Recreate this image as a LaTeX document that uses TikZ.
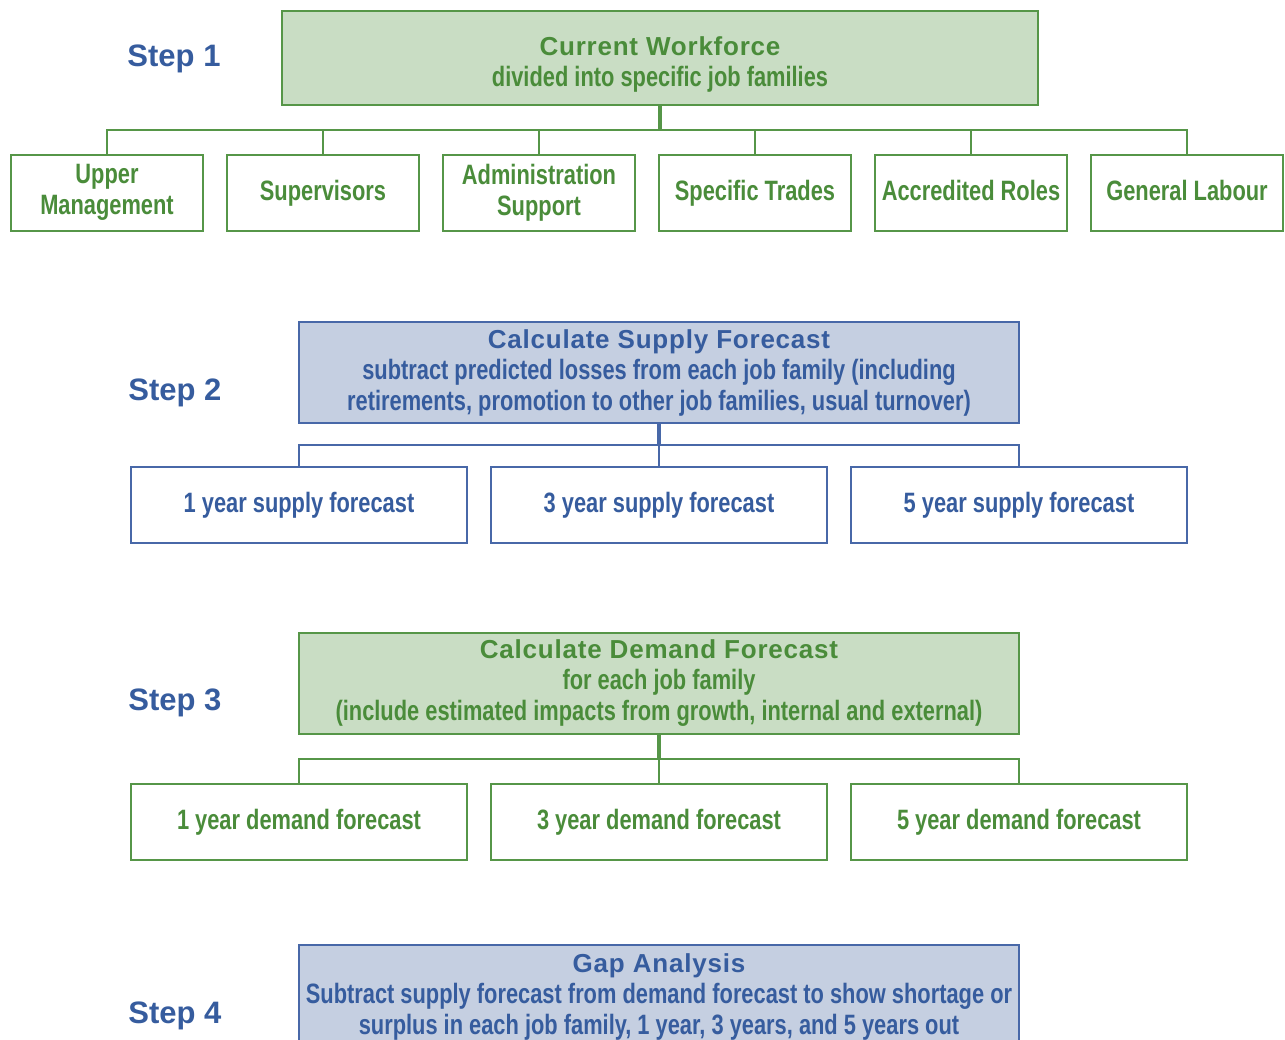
\documentclass[tikz,border=0pt]{standalone}
\usepackage{fontspec}
\setmainfont{Liberation Sans}
\newfontfamily\narrowfont{Liberation Sans}[FakeStretch=0.78]
\newfontfamily\headfont{Liberation Sans}[LetterSpace=3]
\newfontfamily\stepfont{Liberation Sans}

\definecolor{gtext}{RGB}{74,140,58}
\definecolor{gfill}{RGB}{201,221,196}
\definecolor{gline}{RGB}{86,150,72}
\definecolor{btext}{RGB}{54,92,158}
\definecolor{bfill}{RGB}{197,207,225}
\definecolor{bline}{RGB}{72,104,168}

\tikzset{
  steplabel/.style={text=btext, font=\stepfont\bfseries\fontsize{31}{36}\selectfont},
  narrowtxt/.style={font=\narrowfont\bfseries\fontsize{28}{31}\selectfont},
  mainbox/.style={draw, line width=1.8pt, minimum width=720pt, minimum height=101pt,
    align=center, inner sep=0pt, narrowtxt},
  greenmain/.style={mainbox, draw=gline, fill=gfill, text=gtext},
  bluemain/.style={mainbox, draw=bline, fill=bfill, text=btext},
  leaf/.style={draw, line width=1.8pt, fill=white, minimum width=336pt, minimum height=76pt,
    align=center, inner sep=0pt, narrowtxt,
    execute at begin node=\rule{0pt}{22pt},
    execute at end node=\rule[-6.5pt]{0pt}{6.5pt}},
  greenleaf/.style={leaf, draw=gline, text=gtext},
  blueleaf/.style={leaf, draw=bline, text=btext},
  familybox/.style={greenleaf, minimum width=192pt},
  conn/.style={line width=1.8pt},
  stem/.style={line width=3.2pt},
}
\newcommand{\headline}[1]{{\headfont\bfseries\fontsize{26}{31}\selectfont #1}}

\begin{document}
\begin{tikzpicture}[x=1pt, y=-1pt]
\useasboundingbox (0,0) rectangle (1285,1039);
\clip (0,0) rectangle (1285,1039);

% ---- Step 1: workforce and job families
\node[steplabel] (st1) at (174,59) {Step 1};
\node[greenmain, minimum width=756pt, minimum height=94pt] (cw) at (660,58) {};
\node[text=gtext, narrowtxt, align=center, inner sep=0pt] (cwtxt) at (660,64)
  {\headline{Current Workforce}\\divided into specific job families};
\coordinate (bar1) at (660,130);
\node[familybox] (f1) at (107,193) {Upper\\Management};
\node[familybox] (f2) at (323,193) {Supervisors};
\node[familybox] (f3) at (539,193) {Administration\\Support};
\node[familybox] (f4) at (755,193) {Specific Trades};
\node[familybox] (f5) at (971,193) {Accredited Roles};
\node[familybox] (f6) at (1187,193) {General Labour};
\foreach \f in {f1,f2,f3,f4,f5,f6}
  \draw[conn, gline] (\f.north) |- (bar1);
\draw[stem, gline] (cw.south) -- (bar1);

% ---- Step 2: supply forecast
\node[steplabel] (st2) at (175,393) {Step 2};
\node[bluemain] (sup) at (659,372.5)
  {\headline{Calculate Supply Forecast}\\subtract predicted losses from each job family (including\\retirements, promotion to other job families, usual turnover)};
\coordinate (bar2) at (659,445);
\node[blueleaf] (s1) at (299,505) {1 year supply forecast};
\node[blueleaf] (s3) at (659,505) {3 year supply forecast};
\node[blueleaf] (s5) at (1019,505) {5 year supply forecast};
\foreach \f in {s1,s3,s5}
  \draw[conn, bline] (\f.north) |- (bar2);
\draw[stem, bline] (sup.south) -- (bar2);

% ---- Step 3: demand forecast
\node[steplabel] (st3) at (175,703) {Step 3};
\node[greenmain] (dem) at (659,683.5)
  {\headline{Calculate Demand Forecast}\\for each job family\\(include estimated impacts from growth, internal and external)};
\coordinate (bar3) at (659,759);
\node[greenleaf] (d1) at (299,822) {1 year demand forecast};
\node[greenleaf] (d3) at (659,822) {3 year demand forecast};
\node[greenleaf] (d5) at (1019,822) {5 year demand forecast};
\foreach \f in {d1,d3,d5}
  \draw[conn, gline] (\f.north) |- (bar3);
\draw[stem, gline] (dem.south) -- (bar3);

% ---- Step 4: gap analysis
\node[steplabel] (st4) at (175,1016) {Step 4};
\node[bluemain, minimum height=120pt] (gap) at (659,1005) {};
\node[text=btext, narrowtxt, align=center, inner sep=0pt] (gaptxt) at (659,996.5)
  {\headline{Gap Analysis}\\Subtract supply forecast from demand forecast to show shortage or\\surplus in each job family, 1 year, 3 years, and 5 years out};
\end{tikzpicture}
\end{document}
